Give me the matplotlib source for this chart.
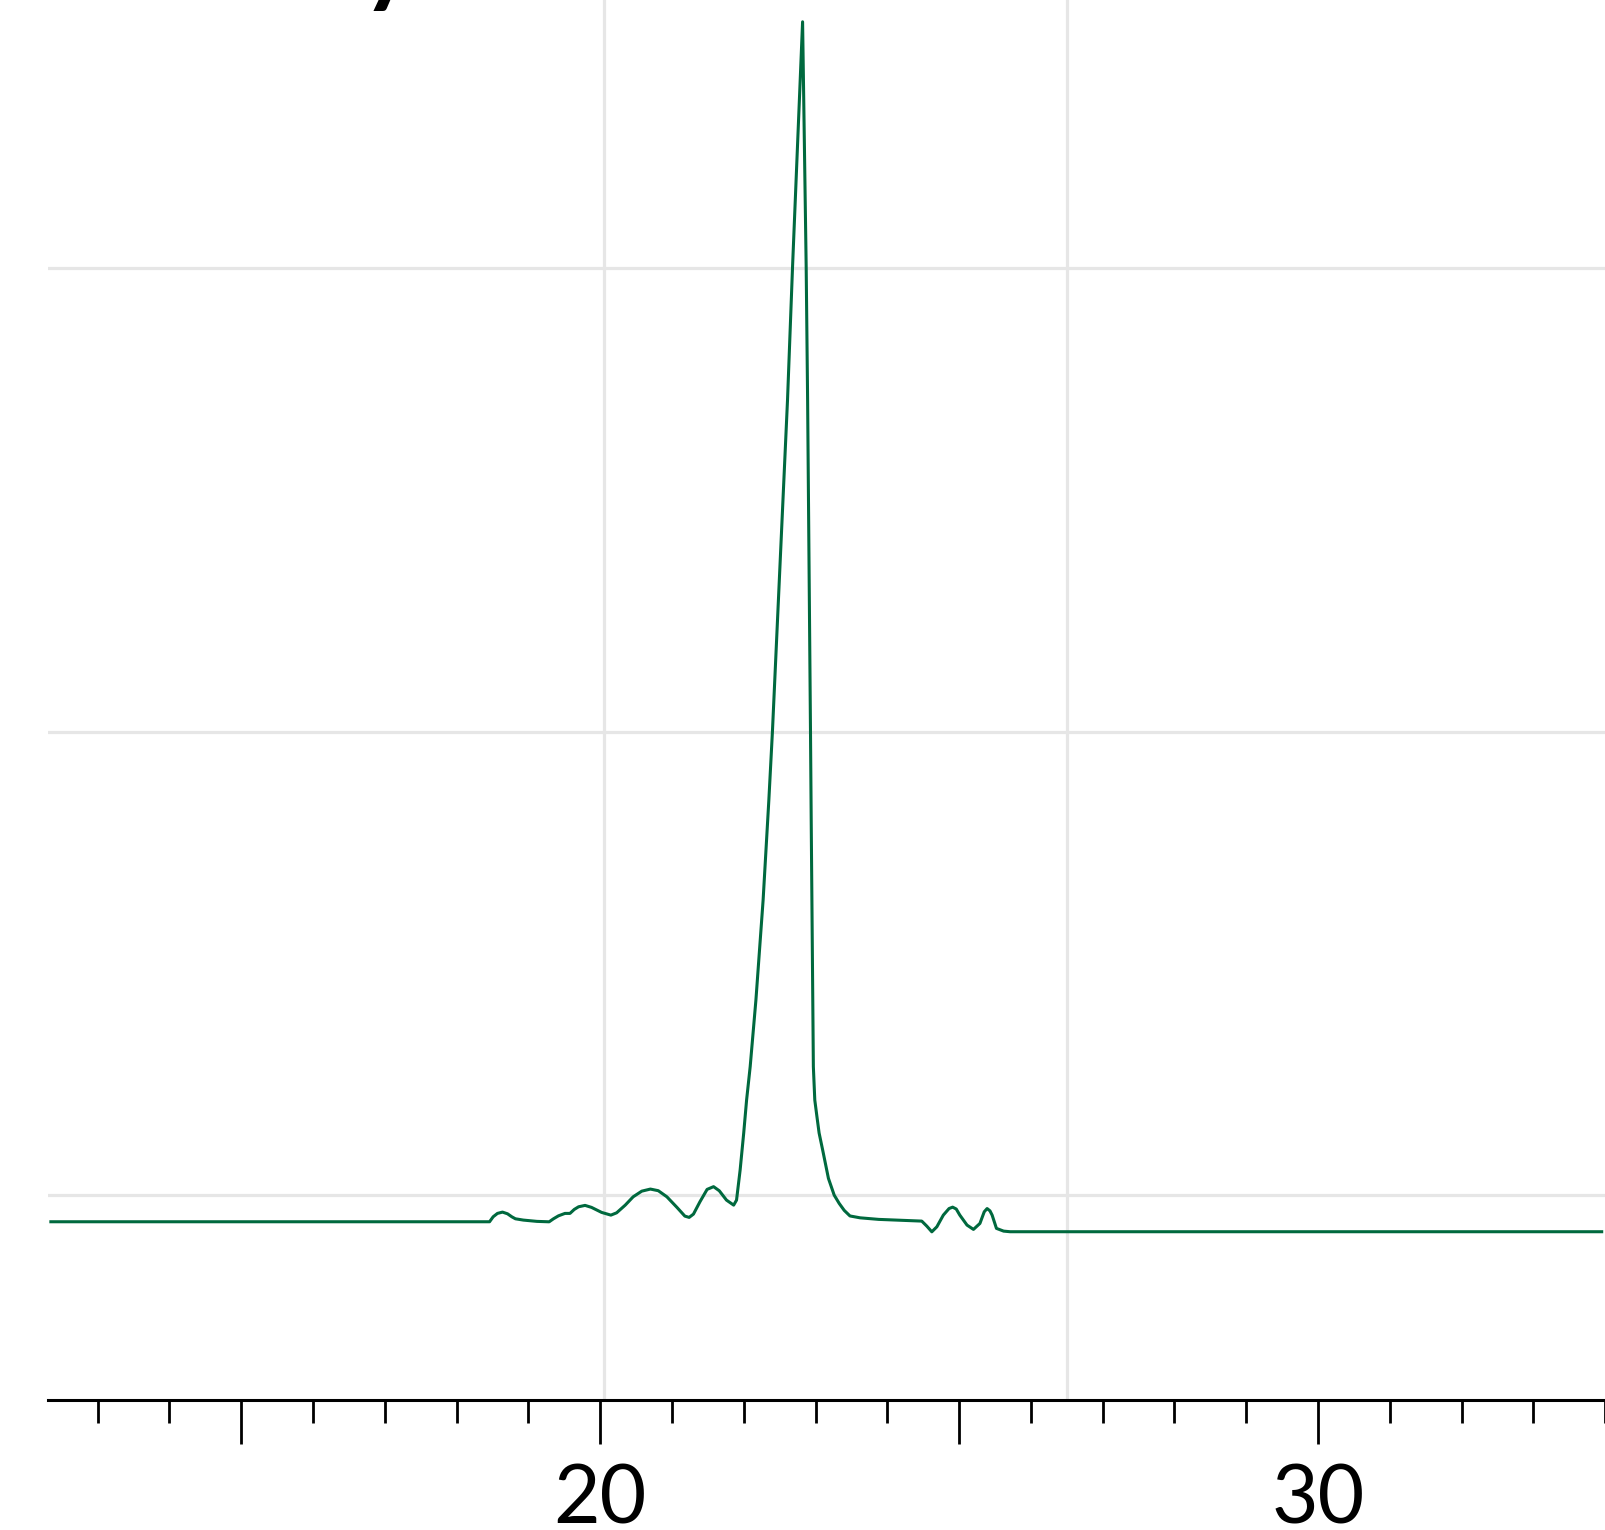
import matplotlib.pyplot as plt
from matplotlib.ticker import FixedLocator, FixedFormatter

# retention time (min) and detector signal
time = [12.35, 18.19, 18.46, 18.51, 18.57, 18.64, 18.71, 18.77, 18.82, 18.93,
        19.12, 19.29, 19.35, 19.42, 19.51, 19.58, 19.64, 19.70, 19.79, 19.88,
        20.02, 20.15, 20.23, 20.35, 20.46, 20.58, 20.70, 20.81, 20.93, 21.07,
        21.18, 21.24, 21.30, 21.39, 21.49, 21.58, 21.66, 21.76, 21.86, 21.90,
        21.95, 22.00, 22.04, 22.09, 22.17, 22.27, 22.35, 22.40, 22.61, 22.68,
        22.82, 22.87, 22.89, 22.93, 22.94, 22.97, 22.99, 23.02, 23.05, 23.10,
        23.18, 23.26, 23.33, 23.40, 23.48, 23.62, 23.88, 24.48, 24.55, 24.62,
        24.69, 24.78, 24.86, 24.91, 24.96, 25.01, 25.11, 25.20, 25.29, 25.35,
        25.39, 25.43, 25.46, 25.52, 25.62, 25.71, 33.95]
signal = [-5.75, -5.75, -5.75, -4.68, -3.95, -3.67, -4.03, -4.68, -5.11, -5.39,
          -5.67, -5.76, -5.11, -4.47, -3.95, -3.95, -3.09, -2.52, -2.22, -2.65,
          -3.73, -4.32, -3.82, -2.16, -0.37, 0.85, 1.3, 0.95, -0.37, -2.65,
          -4.53, -4.81, -4.10, -1.45, 1.23, 1.82, 0.93, -1.08, -2.16, -1.08,
          5.4, 13.4, 20.5, 27.7, 42.1, 63.6, 85.2, 100.0, 171.5, 200.2,
          253.1, 200.2, 171.5, 100.1, 80.9, 27.7, 20.5, 16.9, 13.4, 9.7,
          3.6, 0.0, -1.8, -3.3, -4.5, -4.9, -5.24, -5.61, -6.69, -7.92,
          -6.84, -4.32, -2.9, -2.6, -3.0, -4.32, -6.47, -7.40, -6.11, -3.6,
          -2.9, -3.4, -4.32, -7.18, -7.77, -7.9, -7.9]

major_ticks = [15, 20, 25, 30]
major_labels = ['', '20', '', '30']
minor_ticks = [13, 14, 16, 17, 18, 19, 21, 22, 23, 24, 26, 27, 28, 29, 31, 32, 33, 34]
grid_x = [20.06, 26.50]
grid_y = [0, 100, 200]

line_color = '#00693E'
grid_color = '#E6E6E6'

fig = plt.figure(figsize=(16.06, 15.30), dpi=100)
ax = fig.add_axes([48 / 1606, 130 / 1530, 1 - 48 / 1606, 1 - 130 / 1530])

for gx in grid_x:
    ax.axvline(gx, color=grid_color, lw=2.3, zorder=0)
for gy in grid_y:
    ax.axhline(gy, color=grid_color, lw=2.3, zorder=0)

ax.plot(time, signal, color=line_color, lw=2.2, solid_joinstyle='round', zorder=3)

ax.set_xlim(12.31, 34.01)
ax.set_ylim(-44.2, 257.8)

ax.xaxis.set_major_locator(FixedLocator(major_ticks))
ax.xaxis.set_major_formatter(FixedFormatter(major_labels))
ax.xaxis.set_minor_locator(FixedLocator(minor_ticks))
ax.tick_params(axis='x', which='major', length=31.5, width=2.0, color='black',
               direction='out', pad=14)
ax.tick_params(axis='x', which='minor', length=16.5, width=2.0, color='black',
               direction='out')
for lab in ax.get_xticklabels():
    lab.set_fontfamily('Lato')
    lab.set_fontsize(58)
ax.set_yticks([])

for side in ['left', 'right', 'top']:
    ax.spines[side].set_visible(False)
ax.spines['bottom'].set_linewidth(2.2)
ax.spines['bottom'].set_color('black')

# descender of the cut-off title above the plot
fig.text(362 / 1606, 1 + 6 / 1530, 'y', fontsize=72, fontweight='bold',
         family='Lato', ha='left', va='baseline')

fig.savefig('out.png', dpi=100)
